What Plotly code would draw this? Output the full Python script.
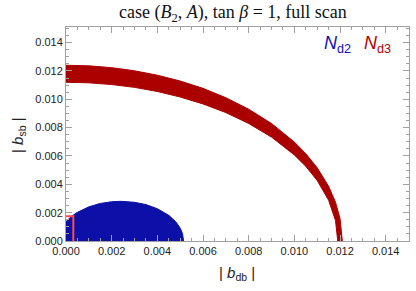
import plotly.graph_objects as go

# N_d3 band: outer and inner boundaries
nd3_outer_x = [0.0, 0.001, 0.002, 0.003, 0.004, 0.005, 0.006, 0.007, 0.008, 0.009, 0.010, 0.0105, 0.011, 0.0115, 0.0118, 0.012, 0.0121]
nd3_outer_y = [0.0124, 0.01236, 0.01223, 0.01201, 0.01170, 0.01129, 0.01077, 0.01011, 0.00930, 0.00829, 0.00698, 0.00616, 0.00517, 0.00386, 0.00274, 0.00159, 0.0]
nd3_inner_x = [0.0119, 0.0118, 0.0115, 0.011, 0.0105, 0.010, 0.009, 0.008, 0.007, 0.006, 0.005, 0.004, 0.003, 0.002, 0.001, 0.0]
nd3_inner_y = [0.0, 0.00145, 0.00288, 0.00427, 0.00527, 0.00607, 0.00733, 0.00829, 0.00906, 0.00967, 0.01016, 0.01055, 0.01084, 0.01104, 0.01116, 0.0112]

# N_d2 region: upper boundary
nd2_x = [0.0, 0.00025, 0.0005, 0.00075, 0.001, 0.0015, 0.002, 0.0024, 0.003, 0.0035, 0.004, 0.0045, 0.0048, 0.005, 0.0051, 0.00515, 0.0]
nd2_y = [0.00137, 0.00175, 0.00202, 0.00224, 0.00241, 0.00265, 0.00277, 0.0028, 0.00273, 0.00257, 0.00228, 0.00181, 0.00137, 0.00091, 0.00053, 0.0, 0.0]

# bound box (red lines)
box_x = [0.0, 0.00032, 0.00032]
box_y = [0.00175, 0.00175, 0.0]

x_ticks = [0.0, 0.002, 0.004, 0.006, 0.008, 0.010, 0.012, 0.014]
y_ticks = [0.0, 0.002, 0.004, 0.006, 0.008, 0.010, 0.012, 0.014]

RED = "#aa0000"
BLUE = "#0d10a6"

W, H = 416, 291
L, R, T, B = 66, 7, 27, 50
PW, PH = W - L - R, H - T - B


def px_to_paper(px, py):
    return (px - L) / PW, (H - B - py) / PH


fig = go.Figure()
fig.add_trace(go.Scatter(
    x=nd3_outer_x + nd3_inner_x, y=nd3_outer_y + nd3_inner_y,
    fill="toself", fillcolor=RED, mode="lines", line=dict(color=RED, width=1),
    hoverinfo="skip", showlegend=False))
fig.add_trace(go.Scatter(
    x=nd2_x, y=nd2_y, fill="toself", fillcolor=BLUE, mode="lines",
    line=dict(color=BLUE, width=1), hoverinfo="skip", showlegend=False))
fig.add_trace(go.Scatter(
    x=box_x, y=box_y, mode="lines", line=dict(color="#ff4a4a", width=2),
    hoverinfo="skip", showlegend=False, cliponaxis=False))

axis_common = dict(
    showline=True, linecolor="#a0a0a0", linewidth=1, mirror="ticks",
    ticks="inside", ticklen=6, tickcolor="#a0a0a0", tickwidth=1,
    showgrid=False, zeroline=False, tickformat=".3f", automargin=False,
    tickfont=dict(family="Liberation Sans, Arial", size=11, color="#222222"),
    minor=dict(dtick=0.0005, ticks="inside", ticklen=3, tickcolor="#a0a0a0", showgrid=False),
)
fig.update_xaxes(range=[0, 0.01502], tickvals=x_ticks, **axis_common)
fig.update_yaxes(range=[0, 0.0151], tickvals=y_ticks, **axis_common)

xt_x, xt_y = px_to_paper(237, 273)
yt_x, yt_y = px_to_paper(18, 135)
tt_x, tt_y = px_to_paper(233, 13)

fig.update_layout(
    width=W, height=H, autosize=False,
    margin=dict(l=L, r=R, t=T, b=B, autoexpand=False),
    plot_bgcolor="white", paper_bgcolor="white",
    showlegend=False,
    annotations=[
        dict(text="case (<i>B</i><sub>2</sub>, <i>A</i>), tan <i>β</i> = 1, full scan",
             x=tt_x, y=tt_y, xref="paper", yref="paper", xanchor="center", yanchor="middle",
             showarrow=False,
             font=dict(family="Liberation Serif, Times New Roman", size=18, color="#111111")),
        dict(text="<i>N</i><sub>d2</sub>", x=0.01121, y=0.01386, xref="x", yref="y",
             xanchor="left", yanchor="middle", showarrow=False,
             font=dict(family="Liberation Sans, Arial", size=18, color="#1010b8")),
        dict(text="<i>N</i><sub>d3</sub>", x=0.01297, y=0.01386, xref="x", yref="y",
             xanchor="left", yanchor="middle", showarrow=False,
             font=dict(family="Liberation Sans, Arial", size=18, color="#b40000")),
        dict(text="| <i>b</i><sub>db</sub> |", x=xt_x, y=xt_y, xref="paper", yref="paper",
             xanchor="center", yanchor="middle", showarrow=False,
             font=dict(family="Liberation Sans, Arial", size=15, color="#222222")),
        dict(text="| <i>b</i><sub>sb</sub> |", x=yt_x, y=yt_y, xref="paper", yref="paper",
             xanchor="center", yanchor="middle", textangle=-90, showarrow=False,
             font=dict(family="Liberation Sans, Arial", size=15, color="#222222")),
    ],
)

fig.write_html(
    "out.html",
    config={"displayModeBar": False, "staticPlot": True},
    post_script="document.body.style.margin='0';document.body.style.padding='0';",
)
